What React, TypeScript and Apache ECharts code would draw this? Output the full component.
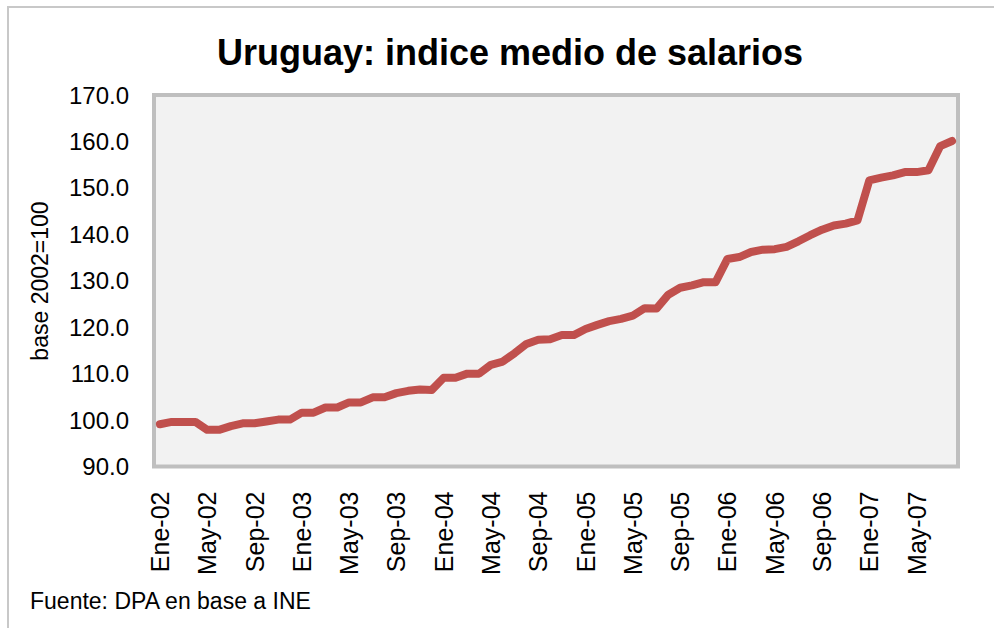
import React, { useEffect, useRef } from "react";
import * as echarts from "echarts";

const monthNames = ["Ene", "Feb", "Mar", "Abr", "May", "Jun", "Jul", "Ago", "Sep", "Oct", "Nov", "Dic"];
const years = ["02", "03", "04", "05", "06", "07"];
const monthCount = 68; // Ene-02 .. Ago-07

const salaryIndex = [
  99.1, 99.6, 99.6, 99.6, 97.9, 97.9, 98.7, 99.3, 99.3, 99.7, 100.1, 100.1,
  101.6, 101.6, 102.7, 102.7, 103.8, 103.8, 104.9, 104.9, 105.8, 106.3, 106.6, 106.5,
  109.1, 109.1, 110.0, 110.0, 111.9, 112.6, 114.4, 116.4, 117.3, 117.4, 118.3, 118.3,
  119.6, 120.5, 121.3, 121.8, 122.5, 124.1, 124.0, 127.0, 128.5, 129.0, 129.7, 129.7,
  134.7, 135.1, 136.2, 136.7, 136.8, 137.3, 138.5, 139.8, 141.0, 141.9, 142.3, 143.0,
  151.6, 152.2, 152.7, 153.4, 153.4, 153.8, 159.0, 160.1,
];

const yMin = 90;
const yMax = 170;
const yStep = 10;

const titleText = "Uruguay: indice medio de salarios";
const yAxisName = "base 2002=100";
const sourceText = "Fuente: DPA en base a INE";

const categories: string[] = [];
for (let i = 0; i < monthCount; i++) {
  categories.push(monthNames[i % 12] + "-" + years[Math.floor(i / 12)]);
}

const FONT = "'Liberation Sans', Arial, sans-serif";

export default function App() {
  const ref = useRef<HTMLDivElement>(null);
  useEffect(() => {
    if (!ref.current) return;
    const chart = echarts.init(ref.current, null, { renderer: "svg" });
    chart.setOption({
      animation: false,
      backgroundColor: "#FFFFFF",
      textStyle: { fontFamily: FONT },
      grid: {
        left: 154,
        right: 36,
        top: 95,
        bottom: 161.5,
        show: true,
        backgroundColor: "#F2F2F2",
        borderColor: "#BFBFBF",
        borderWidth: 4,
      },
      xAxis: {
        type: "category",
        data: categories,
        boundaryGap: true,
        axisLine: { show: false },
        axisTick: { show: false },
        splitLine: { show: false },
        axisLabel: {
          interval: 3,
          rotate: 90,
          margin: 25,
          color: "#000000",
          fontSize: 25,
          fontFamily: FONT,
        },
      },
      yAxis: {
        type: "value",
        min: yMin,
        max: yMax,
        interval: yStep,
        axisLine: { show: false },
        axisTick: { show: false },
        splitLine: { show: false },
        axisLabel: {
          margin: 25,
          color: "#000000",
          fontSize: 24,
          fontFamily: FONT,
          formatter: (v: number) => v.toFixed(1),
        },
      },
      series: [
        {
          type: "line",
          data: salaryIndex,
          showSymbol: false,
          symbol: "none",
          lineStyle: { color: "#C0504D", width: 8, cap: "round", join: "round" },
          itemStyle: { color: "#C0504D" },
        },
      ],
      graphic: [
        {
          type: "rect",
          shape: { x: 8, y: 7, width: 1010, height: 640 },
          style: { fill: "none", stroke: "#C8C8C8", lineWidth: 2 },
          silent: true,
          z: 0,
        },
        {
          type: "text",
          x: 510,
          y: 52,
          style: {
            text: titleText,
            fontSize: 36,
            fontWeight: "bold",
            fontFamily: FONT,
            fill: "#000000",
            align: "center",
            verticalAlign: "middle",
          },
        },
        {
          type: "text",
          x: 40,
          y: 281,
          rotation: Math.PI / 2,
          style: {
            text: yAxisName,
            fontSize: 23,
            fontFamily: FONT,
            fill: "#000000",
            align: "center",
            verticalAlign: "middle",
          },
        },
        {
          type: "text",
          x: 30,
          y: 601,
          style: {
            text: sourceText,
            fontSize: 23,
            fontFamily: FONT,
            fill: "#000000",
            align: "left",
            verticalAlign: "middle",
          },
        },
      ],
    });
    return () => chart.dispose();
  }, []);
  return (
    <div
      ref={ref}
      style={{ position: "fixed", left: 0, top: 0, width: 994, height: 628 }}
    />
  );
}
